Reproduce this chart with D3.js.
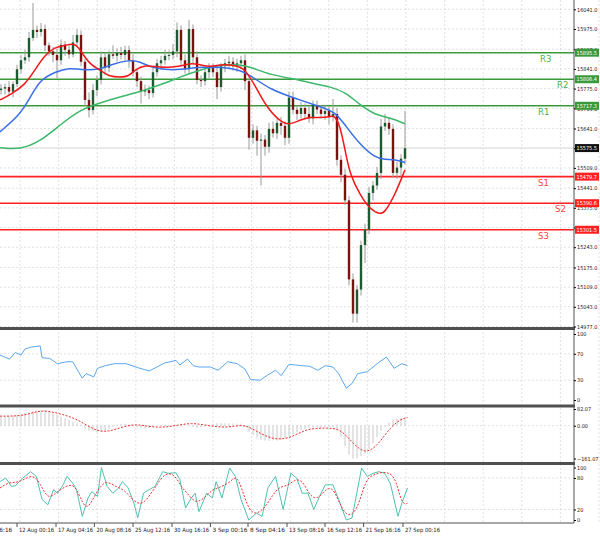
<!DOCTYPE html>
<html lang="en">
<head>
<meta charset="utf-8">
<script src="https://d3js.org/d3.v7.min.js"></script>
<style>
  body { margin: 0; background: #fff; }
  text { font-family: "DejaVu Sans Condensed", "DejaVu Sans", sans-serif; font-size: 6px; fill: #222; }
</style>
</head>
<body>
<svg width="600" height="536"></svg>
<script>
// ---- data ----
const closes = [15775,15780,15765,15790,15840,15870,15880,15945,15972,15965,15975,15920,15900,15888,15870,15922,15905,15890,15930,15955,
  15865,15737,15703,15770,15804,15880,15845,15890,15885,15895,15888,15904,15870,15830,15800,15765,15770,15760,15830,15860,
  15870,15885,15888,15900,15972,15870,15840,15975,15880,15804,15800,15830,15845,15830,15780,15850,15860,15865,15850,15860,
  15870,15800,15610,15635,15600,15604,15580,15640,15625,15660,15650,15610,15745,15704,15690,15710,15690,15675,15720,15705,
  15690,15700,15680,15690,15536,15486,15400,15135,15020,15101,15250,15302,15425,15450,15492,15648,15660,15640,15492,15510,
  15540,15575];
const firstOpen = 15770;
const wickHi = [15,12,20,10,15,18,25,20,90,15,20,15,10,15,20,18,12,15,25,20,
  15,10,25,20,15,20,15,12,30,15,20,15,15,20,10,15,18,15,20,15,
  15,20,15,25,25,15,20,30,15,20,15,20,15,15,20,10,15,20,15,15,
  15,20,15,20,15,20,15,20,25,15,20,15,20,20,15,20,15,25,15,15,
  15,20,15,50,20,15,20,15,20,15,15,20,20,15,20,25,30,20,15,20,
  15,125];
const wickLo = [15,20,15,20,10,15,12,15,10,20,15,20,15,25,60,15,20,15,10,15,
  15,20,25,15,20,15,25,15,10,20,15,20,25,15,20,40,15,20,15,15,
  20,15,15,15,20,20,15,15,20,15,20,15,20,15,40,15,20,15,15,20,
  20,30,40,20,50,150,30,20,15,20,30,25,20,15,20,15,20,15,20,15,
  15,20,25,15,20,25,15,20,30,30,20,60,15,25,15,20,15,20,15,20,
  30,20];

// moving averages: [bar, price]
const maFast = [[0,15737],[2.5,15754],[6.25,15787],[8.75,15838],[11.25,15888],[13.75,15914],[16.25,15920],[18.75,15928],
  [20,15905],[22.5,15855],[25,15838],[27.5,15814],[30,15814],[32,15814],[33.75,15838],[36.25,15855],[40,15845],[45,15848],
  [47.5,15861],[50,15855],[52.5,15848],[55,15855],[57.5,15855],[60,15848],[61.25,15838],[63.75,15787],[66.25,15720],
  [70,15663],[72.5,15653],[75,15670],[77.5,15680],[80,15677],[82.5,15680],[83.5,15687],[85,15653],[86.25,15570],
  [87.5,15486],[90,15419],[92.5,15370],[95,15353],[96.25,15360],[98.75,15419],[101.25,15503]];
const maMid = [[0,15630],[5,15687],[7.5,15744],[10,15804],[13.75,15831],[17.5,15845],[20,15838],[25,15838],[27.5,15855],
  [32.5,15872],[35,15865],[37.5,15848],[41.25,15838],[45,15838],[50,15848],[52.5,15845],[55,15848],[60,15838],[62.5,15821],
  [67.5,15771],[75,15737],[80,15714],[83.75,15697],[86.25,15653],[90,15587],[93.75,15543],[96.25,15537],[98.75,15537],[101.25,15527]];
const maSlow = [[0,15577],[5,15570],[10,15597],[15,15653],[20,15704],[25,15727],[30,15747],[35,15764],[40,15787],[45,15814],
  [50,15838],[55,15855],[60,15855],[62.5,15848],[67.5,15821],[75,15804],[80,15787],[82.5,15781],[86.25,15764],[90,15720],
  [93.75,15687],[97.5,15677],[101.25,15657]];

const levelNames = ["R3","R2","R1","S1","S2","S3"];
const levelValues = [15895.5,15806.4,15717.3,15479.7,15390.6,15301.5];
const lastPrice = 15575.5;
const priceTicks = [16041,15975,15907,15841,15775,15709,15641,15575,15509,15441,15375,15309,15243,15175,15109,15043,14977];

// oscillators: [slot, value], slot on the 0..1568 time grid
const rsi = [[0,68],[25,62],[40,72],[55,68],[65,77],[80,80],[105,82],[110,64],[130,63],[150,55],[175,58],[190,58],[205,43],
  [215,33],[225,40],[245,35],[255,48],[275,52],[300,55],[330,55],[360,49],[390,44],[410,50],[430,56],[460,60],[470,53],
  [490,62],[505,52],[520,50],[550,50],[570,45],[595,58],[620,55],[640,47],[655,31],[680,30],[700,38],[720,45],[735,37],
  [755,54],[790,52],[810,51],[830,45],[850,52],[870,50],[885,40],[905,18],[920,25],[935,40],[960,43],[990,57],[1010,65],
  [1030,48],[1050,55],[1065,52]];
const macdHist = [43,45,47,50,55,58,62,65,70,75,77,77,72,65,55,45,35,28,20,12,5,-15,-25,-28,-32,-30,-22,-15,-5,5,8,10,5,0,
  -5,-10,-15,-12,-8,-2,2,5,4,5,6,4,0,-2,-6,-10,-8,-2,4,10,12,13,12,12,11,10,10,-8,-30,-45,-58,-68,-73,-74,-72,-73,-70,-62,
  -52,-42,-32,-22,-15,-10,-7,-5,-6,-7,-8,-8,-20,-55,-100,-140,-162,-160,-150,-135,-115,-85,-55,-25,-5,15,30,35,38,36];
const macdSignal = [[0,47],[50,47],[80,60],[110,77],[150,63],[200,35],[240,-15],[270,-32],[300,-20],[350,13],[400,-10],
  [450,-5],[500,17],[550,-3],[600,-10],[640,10],[680,-40],[720,-70],[760,-60],[800,-15],[850,-10],[890,-15],[920,-82],
  [955,-143],[990,-90],[1020,-7],[1050,35],[1065,40]];
const stochMain = [[0,73],[15,80],[30,64],[40,65],[55,77],[80,92],[95,83],[110,39],[125,29],[140,58],[150,51],[165,67],
  [175,83],[190,70],[200,58],[215,7],[230,42],[240,54],[255,45],[265,100],[280,64],[295,51],[310,61],[320,73],[335,61],
  [350,32],[360,4],[375,51],[390,58],[405,64],[425,92],[440,89],[460,90],[470,77],[485,23],[500,42],[510,51],[520,16],
  [540,51],[555,42],[565,73],[580,42],[600,99],[615,83],[630,39],[650,0],[670,13],[685,7],[700,61],[720,83],[740,20],
  [760,89],[775,80],[790,51],[805,51],[820,20],[835,45],[850,67],[870,67],[885,39],[905,0],[920,4],[945,99],[960,83],
  [975,89],[990,92],[1005,89],[1020,70],[1040,7],[1050,32],[1065,61]];
const stochSignal = [[0,61],[25,73],[50,70],[85,89],[105,70],[125,39],[145,51],[170,64],[195,70],[215,32],[230,20],[250,51],
  [275,77],[300,64],[325,58],[345,39],[370,26],[395,51],[410,67],[430,89],[455,89],[475,61],[490,51],[510,32],[530,39],
  [555,58],[570,61],[600,70],[620,89],[640,39],[660,7],[690,20],[710,45],[730,64],[750,64],[770,77],[790,77],[810,45],
  [830,39],[850,58],[870,64],[890,26],[910,4],[935,20],[955,77],[975,86],[1000,92],[1020,89],[1035,77],[1050,29],[1065,32]];

const timeLabels = ["6 Aug 16:16","12 Aug 00:16","17 Aug 04:16","20 Aug 08:16","25 Aug 12:16","30 Aug 16:16",
  "3 Sep 00:16","8 Sep 04:16","13 Sep 08:16","16 Sep 12:16","21 Sep 16:16","27 Sep 00:16"];
const timeLabelBars = [-6.2,4.25,14,23.6,33.25,43,52.6,62,71.75,81.25,90.9,100.75];

// ---- layout ----
const svg = d3.select("svg");
const plotR = 574;
const x = d3.scaleLinear().domain([0, 143.5]).range([0, plotR]);      // bar index
const xs = d3.scaleLinear().domain([0, 1568]).range([0, 600]);        // oscillator slots
const y = d3.scaleLinear().domain([14977, 16041]).range([326.5, 9.3]);
const yRsi = d3.scaleLinear().domain([0, 100]).range([400, 334]);
const yMacd = d3.scaleLinear().domain([-161.07, 82.07]).range([458.5, 409]);
const ySto = d3.scaleLinear().domain([0, 100]).range([520, 467.5]);

const grid = "#d4d4d4";
const vg = d3.range(0, 150, 9.65);
svg.append("g").selectAll("line").data(vg).join("line")
  .attr("x1", d => x(d) + 20).attr("x2", d => x(d) + 20).attr("y1", 0).attr("y2", 523)
  .attr("stroke", grid).attr("stroke-dasharray", "2,2").attr("stroke-width", 0.7);
svg.append("g").selectAll("line").data(priceTicks).join("line")
  .attr("x1", 0).attr("x2", plotR).attr("y1", d => y(d)).attr("y2", d => y(d))
  .attr("stroke", grid).attr("stroke-dasharray", "2,2").attr("stroke-width", 0.7);
[[yRsi,[70,30]],[yMacd,[0]],[ySto,[80,20]]].forEach(([sc, vals]) => {
  svg.append("g").selectAll("line").data(vals).join("line")
    .attr("x1", 0).attr("x2", plotR).attr("y1", d => sc(d)).attr("y2", d => sc(d))
    .attr("stroke", grid).attr("stroke-dasharray", "2,2").attr("stroke-width", 0.7);
});

svg.append("line").attr("x1", 0).attr("x2", plotR).attr("y1", y(lastPrice)).attr("y2", y(lastPrice))
  .attr("stroke", "#e4e4e4").attr("stroke-width", 1.5);

const lvlColor = i => i < 3 ? "#3a9a3a" : "#ff2020";
svg.append("g").selectAll("line").data(levelValues).join("line")
  .attr("x1", 0).attr("x2", plotR).attr("y1", d => y(d)).attr("y2", d => y(d))
  .attr("stroke", (d, i) => lvlColor(i)).attr("stroke-width", 1.6);
const lblX = [540, 557, 538, 538, 555, 538];
svg.append("g").selectAll("text").data(levelNames).join("text")
  .attr("x", (d, i) => lblX[i]).attr("y", (d, i) => y(levelValues[i]) + 9)
  .style("font-family", "DejaVu Sans").style("font-size", "8.5px")
  .style("fill", (d, i) => i < 3 ? "#4caf50" : "#ff4040").text(d => d);

// candles
const opens = closes.map((c, i) => i === 0 ? firstOpen : closes[i - 1]);
const cg = svg.append("g");
closes.forEach((c, i) => {
  const o = opens[i], hi = Math.max(o, c) + wickHi[i], lo = Math.min(o, c) - wickLo[i];
  const cx = x(i) + 1;
  cg.append("line").attr("x1", cx).attr("x2", cx).attr("y1", y(hi)).attr("y2", y(lo))
    .attr("stroke", "#9a9a9a").attr("stroke-width", 1);
  cg.append("rect").attr("x", cx - 1.2).attr("width", 2.4)
    .attr("y", y(Math.max(o, c))).attr("height", Math.max(1, Math.abs(y(o) - y(c))))
    .attr("fill", c >= o ? "#1e5a30" : "#7a1212");
});

const maLine = d3.line().x(d => x(d[0])).y(d => y(d[1])).curve(d3.curveBasis);
[[maSlow, "#3cb86a"], [maMid, "#3a6ee8"], [maFast, "#f01818"]].forEach(([d, col]) => {
  svg.append("path").datum(d).attr("d", maLine).attr("fill", "none").attr("stroke", col).attr("stroke-width", 1.5);
});

svg.append("path").datum(rsi)
  .attr("d", d3.line().x(d => xs(d[0])).y(d => yRsi(d[1])))
  .attr("fill", "none").attr("stroke", "#5aa8f0").attr("stroke-width", 1);

svg.append("g").selectAll("line").data(macdHist).join("line")
  .attr("x1", (d, i) => x(i) + 1).attr("x2", (d, i) => x(i) + 1)
  .attr("y1", yMacd(0)).attr("y2", d => yMacd(d))
  .attr("stroke", "#c8c8c8").attr("stroke-width", 1);
svg.append("path").datum(macdSignal)
  .attr("d", d3.line().x(d => xs(d[0])).y(d => yMacd(d[1])).curve(d3.curveBasis))
  .attr("fill", "none").attr("stroke", "#f03030").attr("stroke-width", 1).attr("stroke-dasharray", "2,1.5");

svg.append("path").datum(stochMain)
  .attr("d", d3.line().x(d => xs(d[0])).y(d => ySto(d[1])))
  .attr("fill", "none").attr("stroke", "#50c0b0").attr("stroke-width", 1);
svg.append("path").datum(stochSignal)
  .attr("d", d3.line().x(d => xs(d[0])).y(d => ySto(d[1])).curve(d3.curveBasis))
  .attr("fill", "none").attr("stroke", "#f03030").attr("stroke-width", 1).attr("stroke-dasharray", "2,1.5");

[327, 404.5, 462].forEach(v => svg.append("rect").attr("x", 0).attr("y", v).attr("width", plotR + 1).attr("height", 3).attr("fill", "#505050"));
svg.append("line").attr("x1", 0).attr("x2", plotR).attr("y1", 523).attr("y2", 523).attr("stroke", "#505050");
svg.append("line").attr("x1", plotR).attr("x2", plotR).attr("y1", 0).attr("y2", 523).attr("stroke", "#505050");

const rAxis = (sc, vals, fmt) => {
  const g = svg.append("g").attr("transform", `translate(${plotR},0)`)
    .call(d3.axisRight(sc).tickValues(vals).tickSize(2).tickFormat(fmt));
  g.select(".domain").remove();
  g.selectAll("text").attr("x", 3).attr("font-size", null).attr("font-family", null)
    .style("font-size", "5.5px");
};
rAxis(y, priceTicks, d3.format(".1f"));
rAxis(yRsi, [100, 70, 30, 0], d3.format("d"));
rAxis(yMacd, [82.07, 0, -161.07], d3.format(".2f"));
rAxis(ySto, [100, 80, 20, 0], d3.format("d"));

const tags = levelValues.map((v, i) => [v, lvlColor(i)]).concat([[lastPrice, "#111"]]);
tags.forEach(([v, col]) => {
  svg.append("rect").attr("x", plotR + 1).attr("y", y(v) - 4).attr("width", 24).attr("height", 8).attr("fill", col);
  svg.append("text").attr("x", plotR + 2.5).attr("y", y(v) + 2).style("fill", "#fff").style("font-size", "5.5px").text(v.toFixed(1));
});

const tg = svg.append("g");
timeLabelBars.forEach((b, i) => {
  const px = x(b);
  tg.append("line").attr("x1", px).attr("x2", px).attr("y1", 523).attr("y2", 527).attr("stroke", "#505050");
  tg.append("text").attr("x", px + 2).attr("y", 532).style("font-size", "5.8px")
    .attr("textLength", 35).attr("lengthAdjust", "spacingAndGlyphs").text(timeLabels[i]);
});
</script>
</body>
</html>
